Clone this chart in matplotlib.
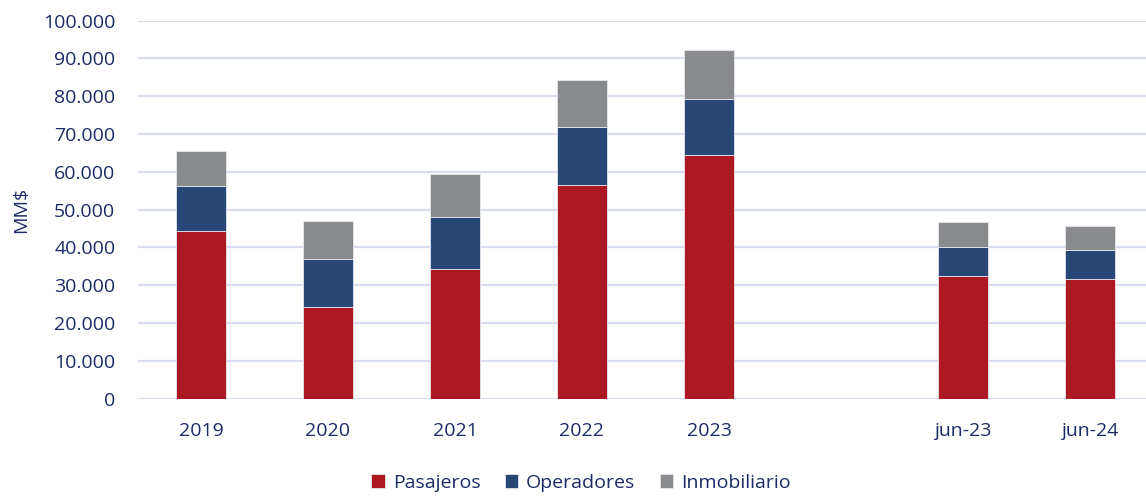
import numpy as np
import matplotlib
matplotlib.use("Agg")
import matplotlib.pyplot as plt
from matplotlib.ticker import FuncFormatter, MultipleLocator

categories = ["2019", "2020", "2021", "2022", "2023", "", "jun-23", "jun-24"]
pasajeros = [44300, 24300, 34200, 56500, 64600, np.nan, 32400, 31600]
operadores = [12000, 12700, 13900, 15400, 14800, np.nan, 7800, 7800]
inmobiliario = [9100, 10000, 11300, 12500, 12900, np.nan, 6500, 6300]
series_names = ["Pasajeros", "Operadores", "Inmobiliario"]

colors = ["#AD1923", "#284776", "#898A8C"]
text_color = "#1B2C68"
grid_color = "#D9DCEE"

plt.rcParams["font.family"] = ["Open Sans", "DejaVu Sans"]

fig = plt.figure(figsize=(11.46, 4.96), dpi=100)
ax = fig.add_axes([137.5 / 1146, 97.3 / 496, 1008.5 / 1146, 378 / 496])

x = np.arange(len(categories))
p = np.array(pasajeros, dtype=float)
o = np.array(operadores, dtype=float)
i = np.array(inmobiliario, dtype=float)
w = 0.394
ax.bar(x, p, w, color=colors[0], label=series_names[0], edgecolor="#E6E6EE", linewidth=0.6, zorder=3)
ax.bar(x, o, w, bottom=p, color=colors[1], label=series_names[1], edgecolor="#E6E6EE", linewidth=0.6, zorder=3)
ax.bar(x, i, w, bottom=p + o, color=colors[2], label=series_names[2], edgecolor="#E6E6EE", linewidth=0.6, zorder=3)

ax.set_xlim(-0.5, 7.441)
ax.set_ylim(0, 100000)
ax.yaxis.set_major_locator(MultipleLocator(10000))
ax.yaxis.set_major_formatter(FuncFormatter(lambda v, _: f"{int(v):,}".replace(",", ".")))
ax.set_xticks(x)
ax.set_xticklabels(categories)
ax.tick_params(axis="both", length=0, labelsize=14, labelcolor=text_color)
ax.tick_params(axis="y", pad=16)
ax.tick_params(axis="x", pad=17)
ax.grid(axis="y", color=grid_color, linewidth=1.6, zorder=0)
ax.set_axisbelow(True)
for s in ax.spines.values():
    s.set_visible(False)

ax.set_ylabel("MM$", color=text_color, fontsize=14)
ax.yaxis.set_label_coords(-107.5 / 1008.5, 0.5)

leg = fig.legend(loc="center", bbox_to_anchor=(581 / 1146, 1 - 483 / 496), ncol=3, frameon=False,
                 fontsize=14, handlelength=0.7, handleheight=0.7, handletextpad=0.4,
                 columnspacing=1.25, labelcolor=text_color)

fig.savefig("out.png", dpi=100)
